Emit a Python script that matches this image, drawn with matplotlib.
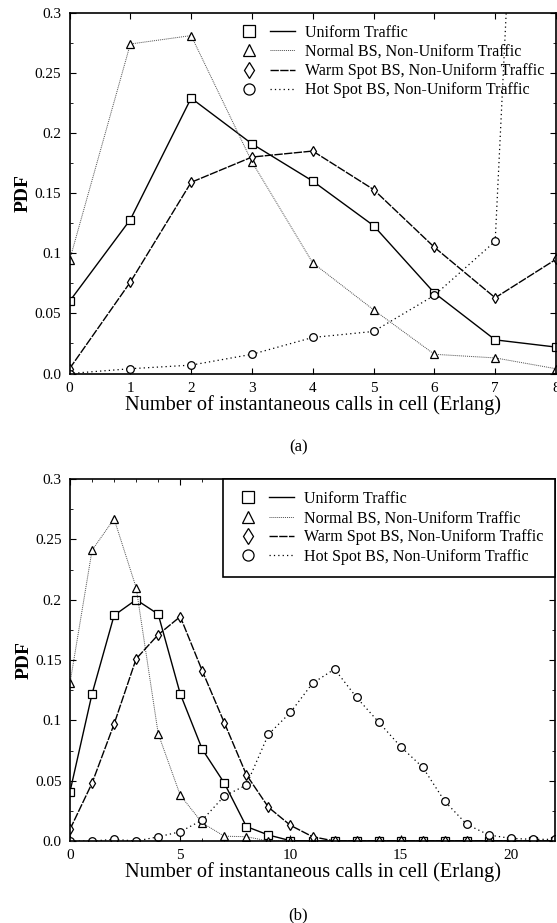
import matplotlib
matplotlib.use('Agg')
from matplotlib import pyplot as plt
from matplotlib.lines import Line2D
from matplotlib.legend_handler import HandlerTuple
from matplotlib.ticker import MultipleLocator

plt.rcParams['font.family'] = 'serif'
plt.rcParams['font.serif'] = ['Liberation Serif', 'DejaVu Serif']

# (a): number of calls 0..8
calls_a = [0, 1, 2, 3, 4, 5, 6, 7, 8]
uniform_a = [0.060, 0.128, 0.229, 0.191, 0.160, 0.123, 0.067, 0.028, 0.022]
normal_a = [0.094, 0.274, 0.281, 0.176, 0.092, 0.053, 0.016, 0.013, 0.004]
warm_a = [0.004, 0.076, 0.159, 0.180, 0.185, 0.153, 0.105, 0.063, 0.095]
hot_a = [0.000, 0.004, 0.007, 0.016, 0.030, 0.035, 0.065, 0.110, 1.160]

# (b): number of calls 0..22
calls_b = [0, 1, 2, 3, 4, 5, 6, 7, 8, 9, 10, 11, 12, 13, 14, 15, 16, 17, 18, 19, 20, 21, 22]
uniform_b = [0.041, 0.122, 0.187, 0.200, 0.188, 0.122, 0.076, 0.048, 0.012, 0.005, 0.0003,
             0.0, 0.0, 0.0, 0.0, 0.0, 0.0, 0.0, 0.0, 0.0, 0.0, 0.0, 0.0]
normal_b = [0.131, 0.241, 0.267, 0.210, 0.089, 0.038, 0.015, 0.004, 0.0036, 0.0, 0.0,
            0.0, 0.0, 0.0, 0.0, 0.0, 0.0, 0.0, 0.0, 0.0, 0.0, 0.0, 0.0]
warm_b = [0.0097, 0.048, 0.097, 0.151, 0.171, 0.186, 0.141, 0.098, 0.055, 0.028, 0.013,
          0.0036, 0.0, 0.0, 0.0, 0.0, 0.0, 0.0, 0.0, 0.0, 0.0, 0.0, 0.0]
hot_b = [0.0, 0.0, 0.0014, 0.0, 0.0035, 0.0077, 0.0174, 0.0373, 0.0464, 0.0884, 0.1066,
         0.1307, 0.1425, 0.119, 0.0986, 0.0782, 0.0611, 0.0329, 0.0138, 0.005, 0.0022,
         0.0014, 0.0014]

labels = ['Uniform Traffic',
          'Normal BS, Non-Uniform Traffic',
          'Warm Spot BS, Non-Uniform Traffic',
          'Hot Spot BS, Non-Uniform Traffic']
yticks = [0.0, 0.05, 0.1, 0.15, 0.2, 0.25, 0.3]
ytick_labels = ['0.0', '0.05', '0.1', '0.15', '0.2', '0.25', '0.3']

# marker, linestyle, linewidth, colour per series
styles = [
    ('s', '-', 1.0, 'black'),
    ('^', (0, (1, 1)), 0.7, '0.3'),
    ('d', (0, (6, 1)), 1.0, 'black'),
    ('o', (0, (1, 2.5)), 0.9, 'black'),
]


def plot_panel(ax, x, series, xmax, xstep, framed, tag):
    for y, (m, ls, lw, c) in zip(series, styles):
        ax.plot(x, y, marker=m, linestyle=ls, lw=lw, color=c,
                mfc='white', mec='black', mew=0.9, ms=5.5)
    ax.set_xlim(0, xmax)
    ax.set_ylim(0, 0.3)
    ax.set_xticks(range(0, xmax + 1, xstep))
    ax.set_yticks(yticks)
    ax.set_yticklabels(ytick_labels)
    if xstep > 1:
        ax.xaxis.set_minor_locator(MultipleLocator(1))
    ax.yaxis.set_minor_locator(MultipleLocator(0.025))
    ax.tick_params(which='both', direction='in', top=True, right=True,
                   labelsize=11, pad=6)
    ax.tick_params(which='major', length=4, width=0.8)
    ax.tick_params(which='minor', length=2, width=0.6)
    for sp in ax.spines.values():
        sp.set_linewidth(1.2)
    ax.set_xlabel('Number of instantaneous calls in cell (Erlang)',
                  fontsize=14.7, labelpad=0)
    ax.set_ylabel('PDF', fontsize=14, fontweight='bold', labelpad=2)

    handles = []
    for m, ls, lw, c in styles:
        mk = Line2D([], [], marker=m, linestyle='none', mfc='white',
                    mec='black', mew=0.9, ms=8)
        ln = Line2D([], [], linestyle=ls, lw=lw, color=c)
        handles.append((mk, ln))
    leg = ax.legend(handles, labels, loc='upper right', fontsize=11.5,
                    handler_map={tuple: HandlerTuple(ndivide=None, pad=0.5)},
                    handlelength=3.7, handletextpad=0.6, labelspacing=0.2,
                    borderpad=0.75, borderaxespad=0, frameon=framed,
                    fancybox=False)
    if framed:
        leg.get_frame().set_edgecolor('black')
        leg.get_frame().set_linewidth(1.2)
        leg.get_frame().set_alpha(1)

    ax.text(0.47, -0.205, tag, transform=ax.transAxes, ha='center',
            va='center', fontsize=12)


fig = plt.figure(figsize=(5.57, 9.23), dpi=100)
ax1 = fig.add_axes([0.1248, 0.5953, 0.8734, 0.3909])
ax2 = fig.add_axes([0.1257, 0.0888, 0.8707, 0.3922])

plot_panel(ax1, calls_a, [uniform_a, normal_a, warm_a, hot_a], 8, 1, False, '(a)')
plot_panel(ax2, calls_b, [uniform_b, normal_b, warm_b, hot_b], 22, 5, True, '(b)')

fig.savefig('out.png', dpi=100)
